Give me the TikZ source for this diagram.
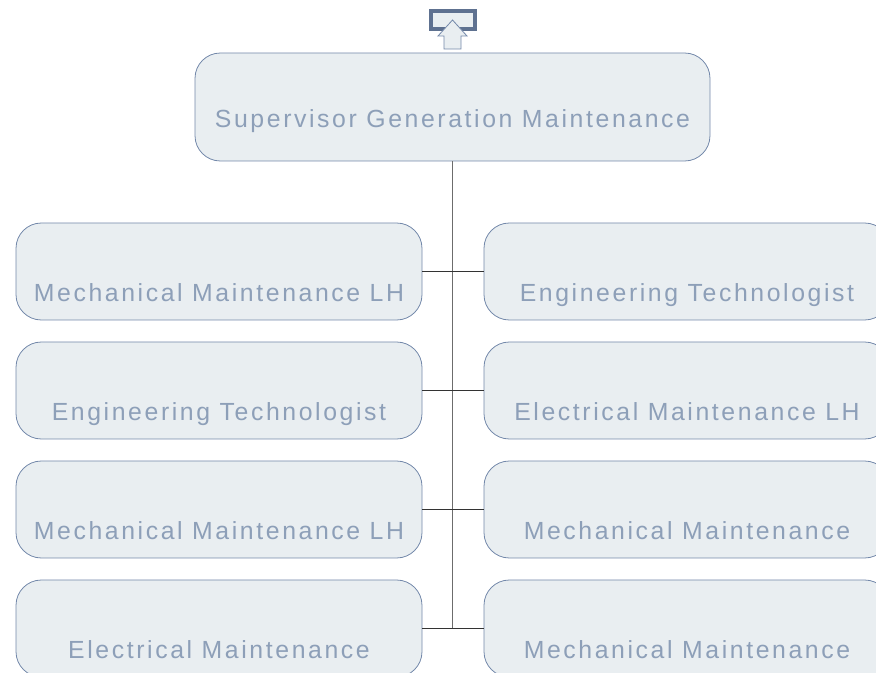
\documentclass[tikz,border=0pt]{standalone}
\usepackage{fontspec}
\setsansfont{Liberation Sans}[LetterSpace=10.5]
\usepackage{xcolor}
\definecolor{orgfill}{HTML}{E9EEF1}
\definecolor{orgline}{HTML}{7388AA}
\definecolor{orgtext}{HTML}{8D9FB8}
\definecolor{orgdark}{HTML}{5E7190}
\definecolor{orgconn}{HTML}{333333}
\usepackage{tikz}
\usetikzlibrary{positioning}

\begin{document}
\begin{tikzpicture}[
    % GLOBAL CFG
    x=0.75pt, y=0.75pt,
    font=\sffamily\fontsize{18.6}{21}\selectfont,
    % Styles
    unit/.style={% For the department boxes
        rectangle,
        rounded corners=19pt,
        draw=orgline,
        fill=orgfill,
        text=orgtext,
        line width=0.6pt,
        inner sep=0pt,
        minimum width=304.5pt,
        minimum height=72.75pt,
        text height=59.25pt,
        text depth=13.5pt,
        },
    head/.style={% For the top box
        unit,
        minimum width=386.25pt,
        minimum height=81pt,
        text height=56.25pt,
        text depth=24.75pt,
        },
    conn/.style={% Connector lines
        draw=orgconn,
        line width=0.9pt,
        },
    ]

%Start drawing the thing...
    \useasboundingbox (0,0) rectangle (876,-673);

    % Draw the top box
    \node [head] (super) at (452.5,-107) {Supervisor Generation Maintenance};

    % Draw the up marker above it
    \node [rectangle, draw=orgdark, fill=orgfill, line width=3pt,
           minimum width=33pt, minimum height=13pt, inner sep=0pt] (mark) at (452.5,-20) {};
    \draw [draw=orgline, fill=orgfill, line width=0.6pt]
        (mark.center) -- ++(14.5,-16) -- ++(-6,0) -- ++(0,-13)
        -- ++(-17,0) -- ++(0,13) -- ++(-6,0) -- cycle;

    % Draw left column named l#
    \node [unit] (l1) at (219,-271.5) {Mechanical Maintenance LH};
    \node [unit] (l2) at (219,-390.5) {Engineering Technologist};
    \node [unit] (l3) at (219,-509.5) {Mechanical Maintenance LH};
    \node [unit] (l4) at (219,-628.5) {Electrical Maintenance};

    % Draw right column named r#
    \node [unit] (r1) at (687,-271.5) {Engineering Technologist};
    \node [unit] (r2) at (687,-390.5) {Electrical Maintenance LH};
    \node [unit] (r3) at (687,-509.5) {Mechanical Maintenance};
    \node [unit] (r4) at (687,-628.5) {Mechanical Maintenance};

% Start connecting all.
    \draw [conn, draw=gray!85!black, line width=1.1pt] (super.south) -- (super.south |- l4.east);
    \draw [conn] (l1.east) -- (r1.west);
    \draw [conn] (l2.east) -- (r2.west);
    \draw [conn] (l3.east) -- (r3.west);
    \draw [conn] (l4.east) -- (r4.west);

\end{tikzpicture}
\end{document}
